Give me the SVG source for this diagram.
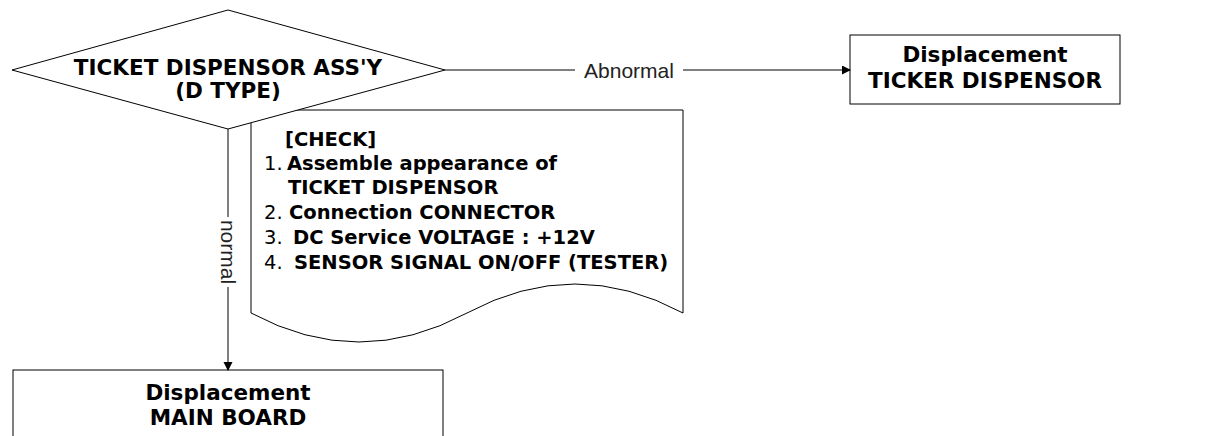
<svg xmlns="http://www.w3.org/2000/svg" width="1223" height="436" viewBox="0 0 1223 436">
<style>
.shape{fill:#fff;stroke:#000;stroke-width:1}
.title{font-family:"DejaVu Sans","Liberation Sans",sans-serif;font-weight:bold;font-size:21.5px;fill:#000;text-anchor:middle}
.chk{font-family:"DejaVu Sans","Liberation Sans",sans-serif;font-weight:bold;font-size:19.5px;fill:#000}
.num{font-weight:normal}
.lbl{font-family:"Liberation Sans","Arial",sans-serif;font-size:21px;fill:#222;text-anchor:middle}
.edge{fill:none;stroke:#000;stroke-width:1}
</style>
<defs>
<marker id="arrow" markerUnits="userSpaceOnUse" markerWidth="10" markerHeight="10" refX="8" refY="4.5" orient="auto">
<path d="M0,0 L9,4.5 L0,9 Z" fill="#000"/>
</marker>
</defs>
<g id="node-check">
<path class="shape" d="M251,110 H683 V313 Q575,255 467,313 Q359,371 251,313 Z"/>
<text class="chk" x="285" y="146">[CHECK]</text>
<text class="chk" y="170"><tspan class="num" x="264">1.</tspan><tspan x="287">Assemble appearance of</tspan></text>
<text class="chk" x="288" y="194">TICKET DISPENSOR</text>
<text class="chk" y="219"><tspan class="num" x="264">2.</tspan><tspan x="289">Connection CONNECTOR</tspan></text>
<text class="chk" y="244"><tspan class="num" x="264">3.</tspan><tspan x="293">DC Service VOLTAGE : +12V</tspan></text>
<text class="chk" y="269"><tspan class="num" x="264">4.</tspan><tspan x="294">SENSOR SIGNAL ON/OFF (TESTER)</tspan></text>
</g>
<g id="node-diamond">
<path class="shape" d="M12,70 L228,10 L445,70 L228,129 Z"/>
<text class="title" x="228" y="75">TICKET DISPENSOR ASS'Y</text>
<text class="title" x="228" y="98">(D TYPE)</text>
</g>
<g id="node-ticker-dispensor">
<rect class="shape" x="850" y="35" width="270" height="69"/>
<text class="title" x="985" y="62">Displacement</text>
<text class="title" x="985" y="88">TICKER DISPENSOR</text>
</g>
<g id="node-main-board">
<rect class="shape" x="13" y="370" width="430" height="100"/>
<text class="title" x="228" y="400">Displacement</text>
<text class="title" x="228" y="425">MAIN BOARD</text>
</g>
<g id="connectors">
<path class="edge" d="M445,70 H575"/>
<path class="edge" d="M683,70 H850" marker-end="url(#arrow)"/>
<text class="lbl" x="629" y="78">Abnormal</text>
<path class="edge" d="M228,129 V217"/>
<path class="edge" d="M228,287 V370" marker-end="url(#arrow)"/>
<text class="lbl" transform="translate(228,252) rotate(90)" x="0" y="7">normal</text>
</g>
</svg>
